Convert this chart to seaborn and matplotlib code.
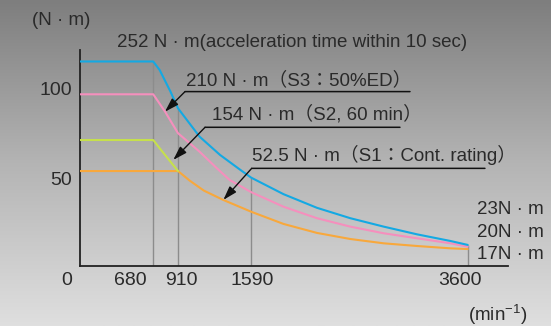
import numpy as np
import pandas as pd
import matplotlib
matplotlib.use("Agg")
import matplotlib.pyplot as plt
from matplotlib.colors import LinearSegmentedColormap
import seaborn as sns

# ---------------- data ----------------
rpm_252 = [0, 680, 740, 840, 910, 1110, 1300, 1490, 1590, 1890, 2200, 2510, 2820, 3130, 3440, 3600]
trq_252 = [115, 115, 110.2, 98.2, 88.9, 73.1, 62.9, 54.5, 50.2, 41.0, 33.4, 27.6, 22.9, 18.6, 14.9, 12.7]

rpm_210 = [0, 680, 790, 910, 1110, 1270, 1390, 1590, 1890, 2200, 2510, 2820, 3130, 3440, 3600]
trq_210 = [96.7, 96.7, 87.0, 75.0, 64.7, 55.5, 48.9, 42.1, 34.0, 27.6, 22.9, 19.2, 16.4, 13.6, 11.7]

rpm_154 = [0, 680, 740, 840, 910]
trq_154 = [71.2, 71.2, 66.6, 59.1, 53.9]

rpm_52 = [0, 910, 1020, 1150, 1330, 1590, 1890, 2200, 2510, 2820, 3130, 3440, 3600]
trq_52 = [53.9, 53.9, 48.5, 43.0, 37.8, 31.2, 24.4, 19.4, 16.0, 13.6, 12.1, 10.8, 10.4]

xtick_vals = [0, 680, 910, 1590, 3600]
xtick_labels = ["0", "680", "910", "1590", "3600"]
ytick_vals = [50, 100]
ytick_labels = ["50", "100"]

ann_labels = {
    "252": "252 N · m(acceleration time within 10 sec)",
    "210": "210 N · m（S3：50%ED）",
    "154": "154 N · m（S2, 60 min）",
    "52.5": "52.5 N · m（S1：Cont. rating）",
}
end_labels = ["23N · m", "20N · m", "17N · m"]

colors = {"252": "#14a9e3", "210": "#f58fbd", "154": "#c6e04c", "52.5": "#f8a83c"}

df = pd.concat([
    pd.DataFrame({"rpm": rpm_252, "torque": trq_252, "series": "252"}),
    pd.DataFrame({"rpm": rpm_210, "torque": trq_210, "series": "210"}),
    pd.DataFrame({"rpm": rpm_154, "torque": trq_154, "series": "154"}),
    pd.DataFrame({"rpm": rpm_52, "torque": trq_52, "series": "52.5"}),
], ignore_index=True)

# ---------------- style ----------------
sns.set_style("white")
plt.rcParams["font.family"] = ["Liberation Sans", "Noto Sans CJK JP"]
plt.rcParams["mathtext.fontset"] = "custom"
plt.rcParams["mathtext.rm"] = "Liberation Sans"
plt.rcParams["mathtext.it"] = "Liberation Sans:italic"
plt.rcParams["mathtext.bf"] = "Liberation Sans:bold"
txt_col = "#2a2a2a"

W, H = 551, 326
fig = plt.figure(figsize=(W / 100, H / 100), dpi=100)

# background gradient
bg = fig.add_axes([0, 0, 1, 1])
grad = np.linspace(0, 1, 256).reshape(-1, 1)
cmap = LinearSegmentedColormap.from_list("g", ["#7e7e7e", "#b4b4b4", "#dfdfdf"])
bg.imshow(grad, aspect="auto", cmap=cmap, extent=[0, 1, 0, 1], origin="upper")
bg.set_axis_off()
bg.set_zorder(-5)

ax = fig.add_axes([80 / W, (H - 266) / H, 428 / W, 216 / H])
ax.set_facecolor("none")
ax.set_xlim(0, 3974)
ax.set_ylim(0.95, 121.4)

# drop lines
blue_at = dict(zip(rpm_252, trq_252))
ax.vlines(xtick_vals[1:], 0.95, [blue_at[v] for v in xtick_vals[1:]],
          color="#8c8c8c", lw=1.0, zorder=1)

sns.lineplot(data=df, x="rpm", y="torque", hue="series", palette=colors,
             hue_order=["52.5", "154", "210", "252"], legend=False,
             linewidth=1.5, ax=ax, sort=False, estimator=None, zorder=3)

for s in ["top", "right"]:
    ax.spines[s].set_visible(False)
for s in ["left", "bottom"]:
    ax.spines[s].set_color("#222222")
    ax.spines[s].set_linewidth(1.3)

ax.set_xlabel("")
ax.set_ylabel("")
ax.set_xticks([])
ax.set_yticks(ytick_vals)
ax.set_yticklabels(ytick_labels)
ax.tick_params(axis="y", direction="in", length=7.5, width=1.0, color="#222222",
               pad=5.8, labelsize=14, labelcolor=txt_col)

# x tick labels (placed under the axis)
xlab_pos = [-121, 464, 944, 1597, 3528]
for p, lab in zip(xlab_pos, xtick_labels):
    ax.text(p, -7.0, lab, ha="center", va="center", fontsize=14, color=txt_col, clip_on=False)

ax.text(-446, 137.6, "(N · m)", ha="left", va="center", fontsize=13.5, color=txt_col, clip_on=False)
ax.text(3600, -26.2, r"(min$^{\mathrm{-1}}$)", ha="left", va="center", fontsize=13.5,
        color=txt_col, clip_on=False)

# annotations
fs = 13.5
ax.text(344, 125.5, ann_labels["252"], ha="left", va="center", fontsize=fs, color=txt_col, clip_on=False)
ax.text(984, 104.7, ann_labels["210"], ha="left", va="center", fontsize=fs, color=txt_col)
ax.text(1226, 85.4, ann_labels["154"], ha="left", va="center", fontsize=fs, color=txt_col)
ax.text(1594, 62.8, ann_labels["52.5"], ha="left", va="center", fontsize=fs, color=txt_col)

arrow_kw = dict(arrowstyle="-|>,head_length=0.7,head_width=0.22", color="#111111", lw=1.0,
                shrinkA=0, shrinkB=0, mutation_scale=12)
line_kw = dict(arrowstyle="-", color="#111111", lw=1.1, shrinkA=0, shrinkB=0)
# 210
ax.annotate("", xy=(789, 87.0), xytext=(975, 98.2), arrowprops=arrow_kw)
ax.annotate("", xy=(3064, 98.2), xytext=(975, 98.2), arrowprops=line_kw)
# 154
ax.annotate("", xy=(866, 60.1), xytext=(1161, 78.3), arrowprops=arrow_kw)
ax.annotate("", xy=(2971, 78.3), xytext=(1161, 78.3), arrowprops=line_kw)
# 52.5
ax.annotate("", xy=(1331, 37.8), xytext=(1594, 55.4), arrowprops=arrow_kw)
ax.annotate("", xy=(3760, 55.4), xytext=(1594, 55.4), arrowprops=line_kw)

for lab, yv in zip(end_labels, [32.3, 19.4, 7.3]):
    ax.text(3683, yv, lab, ha="left", va="center", fontsize=fs, color=txt_col, clip_on=False)

fig.savefig("out.png", dpi=100)
